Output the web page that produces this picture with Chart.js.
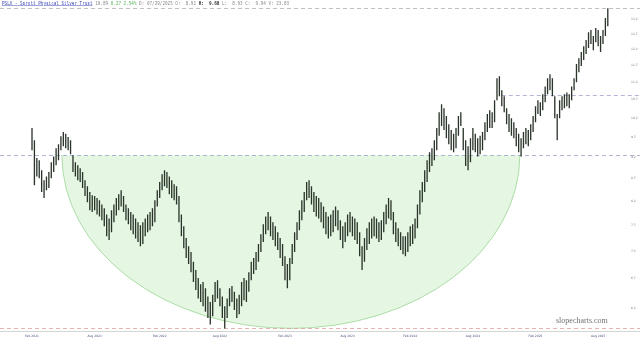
<!DOCTYPE html>
<html>
<head>
<meta charset="utf-8">
<script src="https://cdn.jsdelivr.net/npm/chart.js@4.4.1/dist/chart.umd.min.js"></script>
<style>
  html, body { margin: 0; padding: 0; background: #fff; }
  #wrap { position: relative; width: 640px; height: 343px; overflow: hidden; }
  #head {
    position: absolute; left: 2px; top: 1px;
    font: 8.6px "DejaVu Sans Mono", monospace; color: #8a8a8a;
    white-space: pre; transform: scale(0.5); transform-origin: 0 0;
  }
  #head .sym { color: #3b47b5; text-decoration: underline; }
  #head .up { color: #55b555; }
  #head b { color: #333; }
  #mark {
    position: absolute; left: 556px; top: 316px;
    font: 8px "Liberation Serif", serif; color: #707070;
  }
</style>
</head>
<body>
<div id="wrap">
  <canvas id="chart" width="640" height="343"></canvas>
  <div id="head"><span class="sym">PSLV - Sprott Physical Silver Trust</span> 10.89 <span class="up">0.27 2.54%</span> D: 07/29/2025 O:  8.91 <b>H:  9.60</b> L:  8.93 C:  9.94 V: 23.83</div>
  <div id="mark">slopecharts.com</div>
</div>
<script>
// Weekly bars starting at this week
const startWeek = Date.UTC(2021, 1, 1);

// Weekly highs / lows
const highs = [
  9.93, 9.62, 9.18, 9.13, 8.89, 8.66, 8.75, 8.85, 9.08, 9.22,
  9.42, 9.52, 9.72, 9.83, 9.78, 9.70, 9.62, 9.25, 9.08, 9.01,
  8.94, 8.85, 8.66, 8.53, 8.40, 8.33, 8.31, 8.27, 8.22, 8.13,
  8.05, 7.92, 7.84, 8.01, 8.13, 8.27, 8.35, 8.44, 8.31, 8.13,
  8.05, 7.97, 7.92, 7.84, 7.76, 7.70, 7.76, 7.84, 7.92, 7.97,
  8.05, 8.22, 8.44, 8.62, 8.80, 8.89, 8.85, 8.75, 8.66, 8.57,
  8.53, 8.31, 7.92, 7.68, 7.45, 7.29, 7.18, 7.00, 6.85, 6.71,
  6.60, 6.64, 6.53, 6.39, 6.30, 6.42, 6.64, 6.67, 6.53, 6.39,
  6.23, 6.36, 6.53, 6.57, 6.47, 6.36, 6.42, 6.64, 6.71, 6.67,
  6.81, 7.00, 7.07, 7.18, 7.33, 7.52, 7.72, 7.88, 7.97, 7.88,
  7.76, 7.68, 7.56, 7.45, 7.33, 7.10, 6.96, 7.07, 7.33, 7.56,
  7.76, 8.01, 8.22, 8.40, 8.62, 8.66, 8.53, 8.40, 8.31, 8.27,
  8.18, 8.09, 7.97, 7.88, 7.92, 8.01, 8.09, 8.01, 7.80, 7.68,
  7.76, 7.92, 7.97, 7.88, 7.84, 7.76, 7.56, 7.29, 7.45, 7.64,
  7.76, 7.84, 7.88, 7.84, 7.76, 7.80, 7.97, 8.13, 8.27, 8.22,
  7.97, 7.76, 7.64, 7.56, 7.48, 7.48, 7.56, 7.68, 7.72, 7.84,
  8.13, 8.44, 8.62, 8.89, 9.13, 9.32, 9.42, 9.62, 9.93, 10.35,
  10.57, 10.46, 10.25, 10.03, 9.88, 9.78, 9.93, 10.25, 10.35, 9.93,
  9.62, 9.47, 9.67, 9.93, 9.78, 9.67, 9.73, 9.83, 10.08, 10.30,
  10.40, 10.35, 10.68, 11.31, 11.37, 10.96, 10.79, 10.46, 10.30, 10.19,
  10.08, 9.93, 9.78, 9.67, 9.83, 9.93, 9.88, 10.03, 10.25, 10.51,
  10.68, 10.62, 10.85, 11.07, 11.31, 11.43, 11.31, 10.79, 10.30, 10.68,
  10.79, 10.85, 10.90, 10.85, 11.07, 11.31, 11.74, 11.92, 12.11, 12.30,
  12.50, 12.76, 12.83, 12.63, 12.90, 12.83, 12.63, 12.83, 13.24, 13.58
];
const lows = [
  9.37, 8.55, 8.75, 8.71, 8.40, 8.27, 8.44, 8.49, 8.71, 8.85,
  9.01, 9.13, 9.37, 9.47, 9.42, 9.37, 9.27, 8.85, 8.75, 8.66,
  8.62, 8.49, 8.31, 8.18, 8.01, 7.97, 8.01, 7.92, 7.88, 7.80,
  7.68, 7.48, 7.41, 7.56, 7.76, 7.90, 8.01, 8.09, 7.97, 7.80,
  7.72, 7.60, 7.52, 7.44, 7.37, 7.29, 7.33, 7.48, 7.56, 7.60,
  7.68, 7.76, 8.09, 8.27, 8.44, 8.53, 8.49, 8.35, 8.27, 8.22,
  8.13, 7.76, 7.48, 7.25, 7.07, 6.96, 6.81, 6.64, 6.50, 6.36,
  6.30, 6.23, 6.14, 6.04, 5.94, 6.07, 6.30, 6.36, 6.23, 6.04,
  5.88, 6.04, 6.23, 6.30, 6.17, 6.04, 6.10, 6.23, 6.33, 6.30,
  6.47, 6.67, 6.78, 6.85, 7.00, 7.18, 7.37, 7.52, 7.60, 7.48,
  7.41, 7.29, 7.22, 7.07, 6.92, 6.67, 6.53, 6.67, 6.96, 7.18,
  7.41, 7.60, 7.80, 7.97, 8.22, 8.27, 8.13, 7.97, 7.88, 7.84,
  7.76, 7.64, 7.52, 7.44, 7.48, 7.56, 7.68, 7.60, 7.41, 7.25,
  7.37, 7.48, 7.56, 7.48, 7.41, 7.33, 7.10, 6.85, 7.00, 7.22,
  7.33, 7.44, 7.48, 7.44, 7.37, 7.41, 7.56, 7.72, 7.84, 7.80,
  7.52, 7.37, 7.29, 7.22, 7.14, 7.10, 7.18, 7.29, 7.33, 7.44,
  7.64, 7.92, 8.18, 8.40, 8.62, 8.85, 8.99, 9.13, 9.37, 9.73,
  9.98, 9.88, 9.67, 9.52, 9.37, 9.32, 9.42, 9.73, 9.98, 9.37,
  8.99, 8.89, 9.08, 9.37, 9.32, 9.22, 9.27, 9.37, 9.62, 9.83,
  9.93, 9.93, 10.08, 10.68, 10.79, 10.51, 10.35, 10.03, 9.83, 9.73,
  9.67, 9.47, 9.32, 9.22, 9.42, 9.52, 9.47, 9.62, 9.83, 10.08,
  10.30, 10.25, 10.40, 10.62, 10.85, 10.96, 10.79, 10.19, 9.62, 10.19,
  10.40, 10.46, 10.51, 10.46, 10.68, 10.96, 11.19, 11.49, 11.68, 11.86,
  12.05, 12.24, 12.37, 12.17, 12.43, 12.30, 12.11, 12.37, 12.63, 12.96
];

// Axis labels
const xTickLabels = ["Feb 2021", "Aug 2021", "Feb 2022", "Aug 2022", "Feb 2023",
                     "Aug 2023", "Feb 2024", "Aug 2024", "Feb 2025", "Aug 2025"];
const yTicks = [6.2, 6.7, 7.2, 7.7, 8.2, 8.7, 9.2, 9.7, 10.2, 10.7, 11.2, 11.7, 12.2, 12.7, 13.2];
const yMin = 5.84;
const yMax = 13.77;

// Drawn levels
const lastPrice = 13.58;
const resistanceLevel = 10.82;
const resistanceFrom = 195;
const cupRim = 9.25;
const cupLow = 5.88;
const cupLeft = 12.4;
const cupRight = 202.5;

const MONTHS = ["Jan", "Feb", "Mar", "Apr", "May", "Jun", "Jul", "Aug", "Sep", "Oct", "Nov", "Dec"];
const weeks = highs.map((_, i) => {
  const d = new Date(startWeek + i * 7 * 86400000);
  return MONTHS[d.getUTCMonth()] + " " + d.getUTCFullYear();
});
const tickIdx = xTickLabels.map(l => weeks.indexOf(l)).filter(i => i >= 0);

// cup shading
const cupPlugin = {
  id: "cup",
  beforeDatasetsDraw(chart) {
    const { ctx, scales: { x, y } } = chart;
    const x1 = x.getPixelForValue(cupLeft);
    const x2 = x.getPixelForValue(cupRight);
    const yTop = y.getPixelForValue(cupRim);
    const yBot = y.getPixelForValue(cupLow);
    ctx.save();
    ctx.beginPath();
    ctx.ellipse((x1 + x2) / 2, yTop, (x2 - x1) / 2, yBot - yTop, 0, 0, Math.PI);
    ctx.closePath();
    ctx.fillStyle = "#e5f7e2";
    ctx.fill();
    ctx.beginPath();
    ctx.ellipse((x1 + x2) / 2, yTop, (x2 - x1) / 2, yBot - yTop, 0, 0, Math.PI);
    ctx.strokeStyle = "#9ad596";
    ctx.lineWidth = 0.8;
    ctx.stroke();
    ctx.restore();
  }
};

// dashed horizontal levels
const levelsPlugin = {
  id: "levels",
  beforeDatasetsDraw(chart) {
    const { ctx, width, chartArea, scales: { x, y } } = chart;
    function hline(v, from, color) {
      const py = Math.round(y.getPixelForValue(v)) + 0.5;
      ctx.beginPath();
      ctx.moveTo(from, py);
      ctx.lineTo(width, py);
      ctx.strokeStyle = color;
      ctx.stroke();
    }
    ctx.save();
    ctx.lineWidth = 0.8;
    ctx.setLineDash([4, 3]);
    hline(lastPrice, 0, "#b0b0b0");
    hline(resistanceLevel, x.getPixelForValue(resistanceFrom), "#9da3cc");
    hline(cupRim, 0, "#9da3cc");
    hline(cupLow, 0, "#e0a0a0");
    ctx.setLineDash([]);
    ctx.beginPath();
    ctx.moveTo(0, Math.round(chartArea.bottom) + 0.5);
    ctx.lineTo(width, Math.round(chartArea.bottom) + 0.5);
    ctx.strokeStyle = "#c8c8c8";
    ctx.stroke();
    ctx.restore();
  }
};

const ctx = document.getElementById("chart").getContext("2d");
new Chart(ctx, {
  type: "bar",
  data: {
    labels: weeks,
    datasets: [
      {
        label: "PSLV",
        data: lows.map((l, i) => [l, highs[i]]),
        backgroundColor: "#2a342a",
        barPercentage: 0.55,
        categoryPercentage: 1,
      },
    ],
  },
  options: {
    responsive: false,
    animation: false,
    layout: { padding: { left: 30.8, top: 3, right: 0, bottom: 0 } },
    plugins: { legend: { display: false }, tooltip: { enabled: false } },
    scales: {
      x: {
        grid: { display: false, drawTicks: false },
        border: { display: false },
        afterBuildTicks: (axis) => { axis.ticks = tickIdx.map(i => ({ value: i })); },
        afterFit: (axis) => { axis.height = 12; },
        ticks: {
          autoSkip: false,
          maxRotation: 0,
          padding: 3,
          color: "#4a4f7a",
          font: { size: 3, family: "DejaVu Sans" },
          callback: (v) => weeks[v],
        },
      },
      y: {
        type: "logarithmic",
        position: "right",
        bounds: "data",
        min: yMin,
        max: yMax,
        grid: { display: false, drawTicks: true, tickLength: 21 },
        border: { display: false },
        afterBuildTicks: (axis) => { axis.ticks = yTicks.map(v => ({ value: v })); },
        afterFit: (axis) => { axis.width = 31; axis.paddingTop = 0; axis.paddingBottom = 0; },
        ticks: {
          padding: 1,
          color: "#777",
          font: { size: 3, family: "DejaVu Sans" },
          callback: (v) => v.toFixed(1),
        },
      },
    },
  },
  plugins: [cupPlugin, levelsPlugin],
});
</script>
</body>
</html>
